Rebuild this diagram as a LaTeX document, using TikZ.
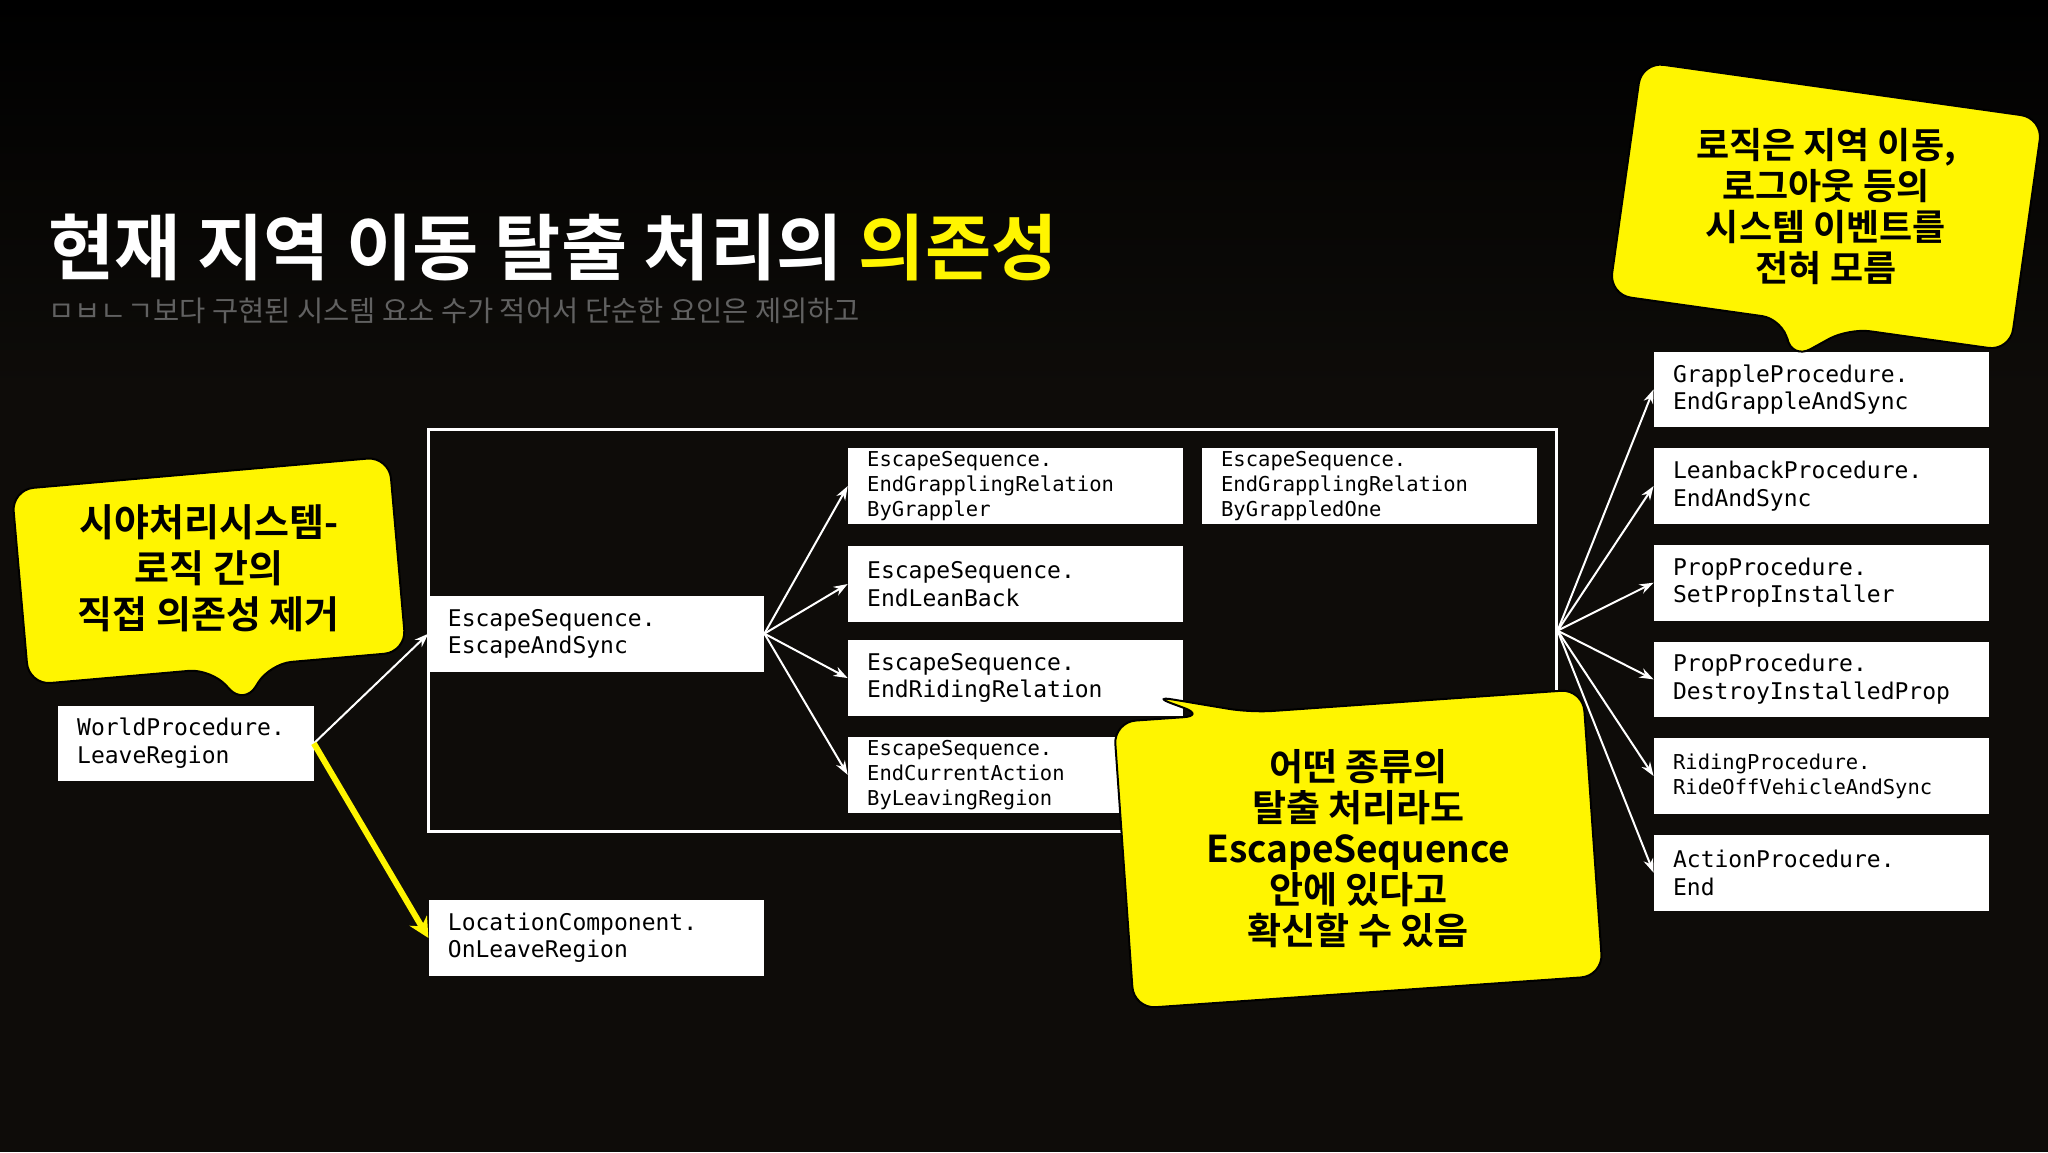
\documentclass[tikz,border=0pt]{standalone}
\usepackage{fontspec}
\setmonofont{DejaVu Sans Mono}
\newfontfamily\kr{Noto Sans CJK KR}
\newfontfamily\krb{Noto Sans CJK KR Bold}
\usetikzlibrary{arrows.meta}
\definecolor{yel}{RGB}{255,245,0}
\definecolor{bg}{RGB}{14,12,9}
\tikzset{
  box/.style={draw=none,fill=white,anchor=north west,align=left,inner xsep=19pt,
    minimum width=335.6pt,text width=297pt,minimum height=75.7pt,
    font=\ttfamily\fontsize{23}{27.5}\selectfont},
  sbox/.style={box,font=\ttfamily\fontsize{20.5}{24.8}\selectfont},
  arr/.style={draw=white,line width=2pt,-{Stealth[length=14pt,width=10pt]}},
  yarr/.style={draw=yel,line width=6pt,-{Stealth[length=20pt,width=20pt]}},
  bubble/.style={fill=yel,draw=black,line width=2pt,rounded corners=22pt},
  btxt/.style={align=center,text=black,font=\krb\fontsize{38}{46}\selectfont}
}
\begin{document}
\begin{tikzpicture}[x=1.30612pt,y=-1.30612pt]
\useasboundingbox (0,0) rectangle (1568,882);
\fill[bg] (0,0) rectangle (1568,882);
\shade[top color=black,bottom color=bg] (0,0) rectangle (1568,300);
% title
\node[anchor=base west,inner sep=0,text=white,font=\krb\fontsize{72}{80}\selectfont] (title) at (37,210) {현재 지역 이동 탈출 처리의 \textcolor{yel}{의존성}};
\node[anchor=base west,inner sep=0,text=black!62,font=\kr\fontsize{28.5}{32}\selectfont] (sub) at (37,246) {ㅁㅂㄴㄱ보다 구현된 시스템 요소 수가 적어서 단순한 요인은 제외하고};
% frame
\node[draw=white,line width=2.5pt,minimum width=1128pt,minimum height=402pt,anchor=north west,inner sep=0] (frame) at (327,328) {};
% boxes
\node[box,minimum width=256pt,text width=217pt] (word) at (44,540) {WorldProcedure.\\LeaveRegion};
\node[box] (andsync) at (328,456) {EscapeSequence.\\EscapeAndSync};
\node[box] (loc) at (328,689) {LocationComponent.\\OnLeaveRegion};
\node[sbox] (c1) at (649,343) {EscapeSequence.\\EndGrapplingRelation\\ByGrappler};
\node[box] (c2) at (649,418) {EscapeSequence.\\EndLeanBack};
\node[box] (c3) at (649,490) {EscapeSequence.\\EndRidingRelation};
\node[sbox] (c4) at (649,564) {EscapeSequence.\\EndCurrentAction\\ByLeavingRegion};
\node[sbox] (g1) at (920,343) {EscapeSequence.\\EndGrapplingRelation\\ByGrappledOne};
\node[box] (r1) at (1266,269) {GrappleProcedure.\\EndGrappleAndSync};
\node[box] (r2) at (1266,343) {LeanbackProcedure.\\EndAndSync};
\node[box] (r3) at (1266,417) {PropProcedure.\\SetPropInstaller};
\node[box] (r4) at (1266,491) {PropProcedure.\\DestroyInstalledProp};
\node[sbox] (r5) at (1266,565) {RidingProcedure.\\RideOffVehicleAndSync};
\node[box] (r6) at (1266,639) {ActionProcedure.\\End};
% arrows
\draw[arr] (word.east) -- (andsync.west);
\draw[yarr] (word.east) -- (loc.west);
\foreach \c in {c1,c2,c3,c4} \draw[arr] (andsync.east) -- (\c.west);
\foreach \r in {r1,r2,r3,r4,r5,r6} \draw[arr] (frame.east) -- (\r.west);
% left bubble
\begin{scope}[shift={(160,437)},rotate=5]
\draw[bubble] (-145,-75) -- (145,-75) -- (145,75) -- (40,75) -- (18,105) -- (-5,75) -- (-145,75) -- cycle;
\node[btxt] (lb) at (0,-2) {시야처리시스템-\\로직 간의\\직접 의존성 제거};
\end{scope}
% top right bubble
\begin{scope}[shift={(1398,158)},rotate=-8]
\draw[bubble] (-155,-90) -- (155,-90) -- (155,90) -- (30,90) -- (-10,120) -- (-20,90) -- (-155,90) -- cycle;
\node[btxt,font=\krb\fontsize{36}{41}\selectfont] (tb) at (0,0) {로직은 지역 이동,\\로그아웃 등의\\시스템 이벤트를\\전혀 모름};
\end{scope}
% middle bubble
\begin{scope}[shift={(1040,650)},rotate=4]
\draw[bubble] (-180,-110) -- (-110,-110) -- (-150,-128) -- (-75,-110) -- (180,-110) -- (180,110) -- (-180,110) -- cycle;
\node[btxt,font=\krb\fontsize{37}{41}\selectfont] (mb) at (0,0) {어떤 종류의\\탈출 처리라도\\EscapeSequence\\안에 있다고\\확신할 수 있음};
\end{scope}
\end{tikzpicture}
\end{document}
